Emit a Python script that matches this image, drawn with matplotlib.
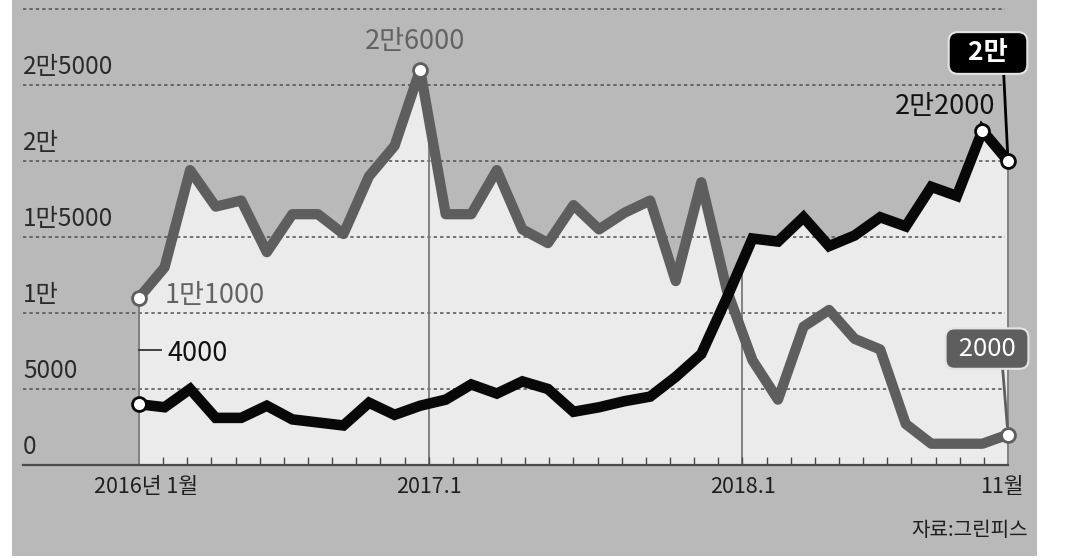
import numpy as np
import matplotlib
matplotlib.use("Agg")
import matplotlib.pyplot as plt
from matplotlib.patches import Rectangle

plt.rcParams['font.family'] = ['Noto Sans CJK KR', 'DejaVu Sans']

# monthly values, 2016.1 ~ 2018.11
gray_vals = [11000, 13000, 19400, 17000, 17400, 14000, 16500, 16500, 15200, 19000,
             21000, 26000, 16500, 16500, 19400, 15500, 14600, 17100, 15500, 16600,
             17400, 12100, 18600, 11500, 6900, 4300, 9100, 10200, 8300, 7600,
             2700, 1400, 1400, 1400, 2000]
black_vals = [4000, 3800, 5000, 3100, 3100, 3900, 3000, 2800, 2600, 4100,
              3300, 3900, 4300, 5300, 4700, 5500, 5000, 3500, 3800, 4200,
              4500, 5800, 7300, 11000, 14900, 14700, 16300, 14400, 15100, 16300,
              15700, 18300, 17700, 22000, 20000]

ytick_vals = [0, 5000, 10000, 15000, 20000, 25000, 30000]
ytick_labels = ['0', '5000', '1만', '1만5000', '2만', '2만5000', '3만']
xtick_labels = ['2016년 1월', '2017.1', '2018.1', '11월']
xtick_slots = [0, 12, 25, 36]   # the axis is drawn with 36 small tick intervals
n_slots = 36

GRAY = '#5e5e5e'
BLACK = '#080808'
PANEL = '#b9b9b9'
FILL = '#ebebeb'
GUIDE = '#7a7a7a'

W, H = 1077, 560
fig = plt.figure(figsize=(W / 100, H / 100), dpi=100)
fig.patch.set_facecolor('white')
fig.patches.append(Rectangle((12 / W, (H - 556) / H), (1037 - 12) / W, 556 / H,
                             transform=fig.transFigure, facecolor=PANEL,
                             edgecolor='none', zorder=-1))

ax = fig.add_axes([0, 0, 1, 1])
ax.set_facecolor('none')
ax.axis('off')

# pixel layout -> data limits
x_first, x_last, y_zero = 139, 1008, 465
ppm = (x_last - x_first) / (len(gray_vals) - 1)
ppu = 76 / 5000
ax.set_xlim(-x_first / ppm, (W - x_first) / ppm)
ax.set_ylim(-(H - y_zero) / ppu, y_zero / ppu)

x = np.arange(len(gray_vals))
gray = np.array(gray_vals)
black = np.array(black_vals)
x_end = x[-1]
x_left = (23 - x_first) / ppm

# light area under both lines
ax.fill_between(x, 0, gray, color=FILL, lw=0, zorder=1)
ax.fill_between(x, 0, black, color=FILL, lw=0, zorder=1)

# dotted grid
for v in ytick_vals[1:]:
    ax.plot([x_left, x_end - 0.1], [v, v], color='#505050', lw=1.1,
            ls=(0, (2.2, 2.0)), zorder=2)

# y labels
for v, lab in zip(ytick_vals, ytick_labels):
    ax.text(x_left, v + 1180, lab, ha='left', va='center', fontsize=17.5,
            fontweight='medium', color='#2a2a2a', zorder=6)

# bottom axis with small ticks
ax.plot([x_left, x_end], [0, 0], color='#4a4a4a', lw=1.6, zorder=3)
tick_x = np.linspace(0, x_end, n_slots + 1)
ax.vlines(tick_x[1:-1], 0, 8 / ppu, color='#4a4a4a', lw=1.0, zorder=3)

# guide lines up to the filled area
for s in xtick_slots:
    xv = tick_x[s]
    top = max(np.interp(xv, x, gray), np.interp(xv, x, black))
    ax.plot([xv, xv], [0, top], color=GUIDE, lw=1.3, zorder=2.5)

label_dx = [7, 0, 0, -6]
for s, lab, dx in zip(xtick_slots, xtick_labels, label_dx):
    ax.text(tick_x[s] + dx / ppm, -22 / ppu, lab, ha='center', va='center',
            fontsize=15.5, fontweight='medium', color='#1e1e1e', zorder=6)

# the two lines
ax.plot(x, gray, color=GRAY, lw=7.4, solid_joinstyle='round', zorder=4)
ax.plot(x, black, color=BLACK, lw=7.6, solid_joinstyle='miter', zorder=5)

# white dots
for i, arr, c in [(0, gray, GRAY), (11, gray, GRAY), (34, gray, GRAY),
                  (0, black, BLACK), (33, black, BLACK), (34, black, BLACK)]:
    ax.plot([x[i]], [arr[i]], 'o', ms=10, mfc='white', mec=c, mew=2, zorder=7)

# value labels
ax.annotate('2만6000', xy=(11, gray[11]), xytext=(-5, 28), textcoords='offset pixels',
            ha='center', va='center', fontsize=19.5, fontweight='medium',
            color='#626262', zorder=8)
ax.annotate('1만1000', xy=(0, gray[0]), xytext=(26, 2), textcoords='offset pixels',
            ha='left', va='center', fontsize=19.5, fontweight='medium',
            color='#626262', zorder=8)
ax.annotate('4000', xy=(0, black[0]), xytext=(29, 51), textcoords='offset pixels',
            ha='left', va='center', fontsize=19.5, fontweight='medium',
            color='#111111', zorder=8)
ax.plot([0, 22 / ppm], [(y_zero - 350) / ppu] * 2, color='#333333', lw=1.3, zorder=3)
ax.annotate('2만2000', xy=(33, black[33]), xytext=(13, 24), textcoords='offset pixels',
            ha='right', va='center', fontsize=19.5, fontweight='medium',
            color='#111111', zorder=8)

# end-value boxes
ax.annotate('  2만  ', xy=(x_end, black[-1]), xytext=(-20, 108), textcoords='offset pixels',
            ha='center', va='center', fontsize=19, fontweight='bold', color='white',
            bbox=dict(boxstyle='round,pad=0.28,rounding_size=0.35', fc='black',
                      ec='#e4e4e4', lw=1.5),
            arrowprops=dict(arrowstyle='-', color='black', lw=2, relpos=(0.74, 0),
                            shrinkA=0, shrinkB=6),
            zorder=8)
ax.annotate(' 2000 ', xy=(x_end, gray[-1]), xytext=(-21, 86), textcoords='offset pixels',
            ha='center', va='center', fontsize=18.5, fontweight='medium', color='white',
            bbox=dict(boxstyle='round,pad=0.28,rounding_size=0.35', fc=GRAY,
                      ec='#e4e4e4', lw=1.5),
            arrowprops=dict(arrowstyle='-', color=GRAY, lw=2, relpos=(0.72, 0),
                            shrinkA=0, shrinkB=6),
            zorder=8)

fig.text(1028 / W, 1 - 530 / H, '자료:그린피스', ha='right', va='center',
         fontsize=14.5, fontweight='medium', color='#1e1e1e')

fig.savefig('out.png', dpi=100, facecolor=fig.get_facecolor())
